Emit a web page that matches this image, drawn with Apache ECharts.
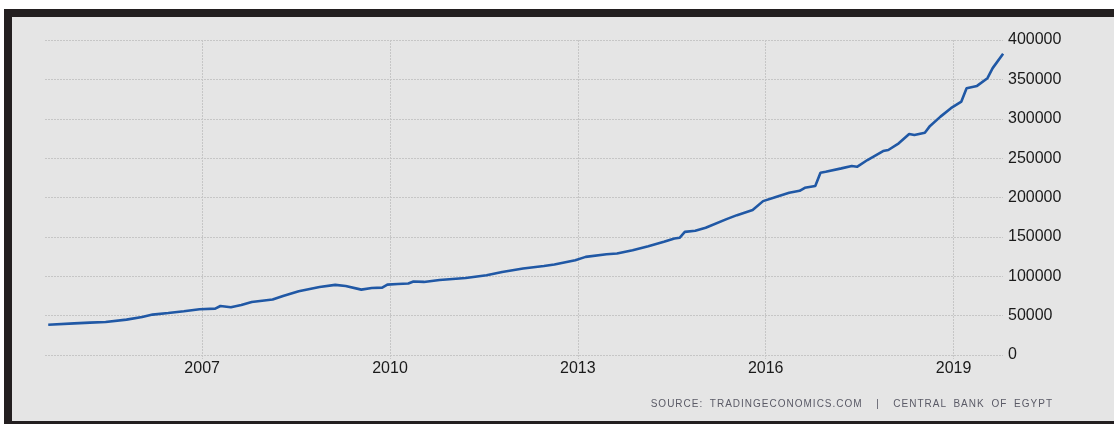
<!DOCTYPE html>
<html>
<head>
<meta charset="utf-8">
<script src="https://cdn.jsdelivr.net/npm/echarts@6/dist/echarts.min.js"></script>
<style>
  html, body { margin: 0; padding: 0; background: #fff; overflow: hidden; }
  body { width: 1114px; height: 424px; position: relative; }
  .frame {
    position: absolute; left: 4px; top: 9px; width: 1200px; height: 404px;
    border-top: 8px solid #231f20; border-left: 8px solid #231f20; border-bottom: 8px solid #231f20;
    background: #e5e5e5;
  }
  #chart { position: absolute; left: 12px; top: 17px; width: 1102px; height: 404px; }
  .source {
    position: absolute; right: 61px; top: 398px;
    font: 10px "Liberation Sans", Arial, sans-serif; color: #5a5a66;
    letter-spacing: 1px; word-spacing: 3px; white-space: pre;
  }
</style>
</head>
<body>
<div class="frame"></div>
<div id="chart"></div>
<div class="source">SOURCE: TRADINGECONOMICS.COM  |  CENTRAL BANK OF EGYPT</div>
<script>
// values (month, value)
const months = [
  '2004-07', '2004-12', '2005-03', '2005-06', '2005-10', '2006-01', '2006-03', '2006-06', '2006-09', '2006-12',
  '2007-03', '2007-04', '2007-06', '2007-08', '2007-10', '2008-02', '2008-04', '2008-07', '2008-11',
  '2009-02', '2009-04', '2009-07', '2009-09', '2009-11', '2009-12', '2010-02', '2010-04', '2010-05', '2010-07', '2010-10',
  '2011-03', '2011-07', '2011-10', '2012-02', '2012-06', '2012-08', '2012-12',
  '2013-02', '2013-06', '2013-08', '2013-11', '2014-02', '2014-05', '2014-07', '2014-08', '2014-09', '2014-11',
  '2015-01', '2015-05', '2015-07', '2015-10', '2015-12', '2016-02', '2016-05', '2016-07', '2016-08', '2016-10', '2016-11', '2016-12',
  '2017-03', '2017-05', '2017-06', '2017-08', '2017-11', '2017-12', '2018-02', '2018-04', '2018-05', '2018-07', '2018-08', '2018-10', '2018-12',
  '2019-02', '2019-03', '2019-05', '2019-07', '2019-08', '2019-10'
]
const values = [
  38500, 40200, 41100, 41900, 44900, 48200, 51300, 53300, 55500, 58000,
  58900, 62200, 60600, 63500, 67300, 70400, 75000, 81000, 86400,
  89000, 87700, 83000, 85100, 85600, 89400, 90200, 90700, 93300, 92800, 95300,
  97800, 101300, 105500, 109800, 113000, 114900, 120400,
  124600, 128000, 128900, 133000, 138200, 143700, 148000, 148800, 156400, 157700,
  161500, 172500, 177600, 184000, 195400, 199600, 206000, 208500, 212300, 214500, 231400, 232700,
  237000, 240000, 239000, 247600, 259000, 260300, 268800, 280700, 279400, 282300, 290900, 302700, 313400,
  321800, 338800, 341700, 351500, 364300, 382500
]
const yearTicks = [2007, 2010, 2013, 2016, 2019]

const chart = echarts.init(document.getElementById('chart'))

// month string -> decimal year at mid-month
const toYear = m => {
  const [y, mo] = m.split('-').map(Number)
  return y + (mo - 0.5) / 12
}
const gridLine = { show: true, lineStyle: { color: '#c6c6c6', type: [2, 1], width: 1 } }

const option = {
  animation: false,
  grid: { left: 33, right: 111, top: 23, bottom: 66 },
  xAxis: {
    type: 'value',
    min: 2004.49,
    max: 2019.79,
    axisLine: { show: false },
    axisTick: { show: true, length: 4, customValues: yearTicks, lineStyle: { color: '#c6c6c6', type: [2, 1] } },
    splitLine: gridLine,
    axisLabel: {
      customValues: yearTicks,
      margin: 6,
      color: '#1a1a1a',
      fontSize: 16,
      fontFamily: 'Liberation Sans',
      formatter: v => String(v)
    }
  },
  yAxis: {
    type: 'value',
    position: 'right',
    min: 0,
    max: 400000,
    interval: 50000,
    axisLine: { show: false },
    axisTick: { show: false },
    splitLine: gridLine,
    axisLabel: {
      margin: 5, color: '#1a1a1a', fontSize: 16, fontFamily: 'Liberation Sans',
      formatter: v => String(v)
    }
  },
  series: [{
    type: 'line',
    data: months.map((m, i) => [toYear(m), values[i]]),
    symbol: 'none',
    lineStyle: { color: '#2058a5', width: 2.6 }
  }]
}
chart.setOption(option)
</script>
</body>
</html>
